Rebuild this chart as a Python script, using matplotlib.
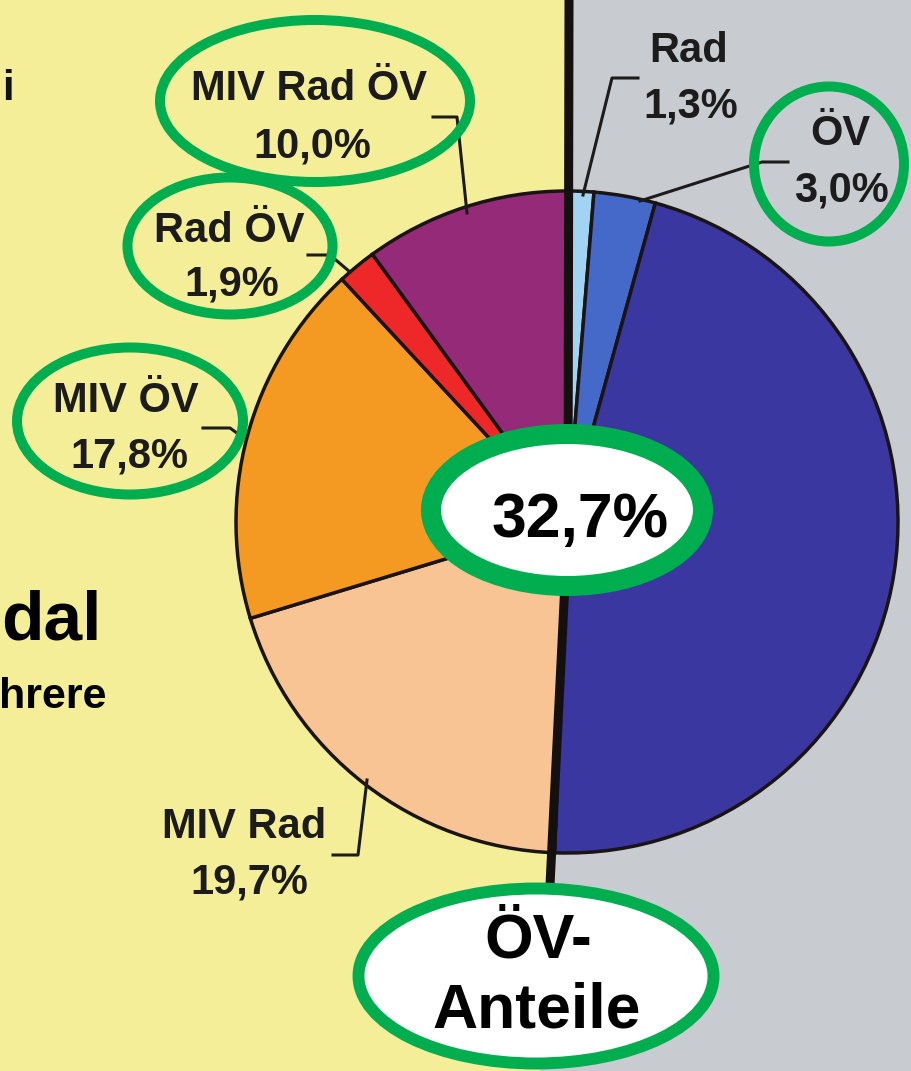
import matplotlib.pyplot as plt
from matplotlib.patches import Ellipse

plt.rcParams['font.family'] = ['Liberation Sans', 'DejaVu Sans']

# Daten (Anteile in %), im Uhrzeigersinn ab 12 Uhr
labels = ['Rad', 'ÖV', 'MIV', 'MIV Rad', 'MIV ÖV', 'Rad ÖV', 'MIV Rad ÖV']
shares = [1.3, 3.0, 46.3, 19.7, 17.8, 1.9, 10.0]
share_text = ['1,3%', '3,0%', None, '19,7%', '17,8%', '1,9%', '10,0%']
colors = ['#a3d3f2', '#4569c8', '#3b37a0', '#f9c494', '#f49a22', '#ee2829', '#942a78']
oev_total = '32,7%'

W, H = 911, 1071
fig = plt.figure(figsize=(W / 100, H / 100), dpi=100)
ax = fig.add_axes([0, 0, 1, 1])

# Hintergrund: links gelb, rechts grau (Grenze = schwarze Trennlinie)
cx, cy, r = 567, 522, 331
ax.fill([0, W, W, 0], [0, 0, H, H], color='#f4ee98', zorder=0)
ax.fill([569, W, W, 541, 568], [0, 0, H, H, cy], color='#c8ccd1', zorder=0)

# Torte (y-Achse invertiert -> startangle 270 = oben, counterclock=True läuft im Bild im Uhrzeigersinn)
ax.pie(shares, colors=colors, startangle=270, counterclock=True, center=(cx, cy), radius=r,
       wedgeprops=dict(edgecolor='#1a1414', linewidth=2.5), frame=True)

ax.plot([569, 568, 549], [0, cy, 905], color='#151010', lw=6.5, solid_capstyle='butt', zorder=3)

# Beschriftungen: (x1, y1, x2, y2) für Zeile 1 / Zeile 2
txt = '#1c1c1c'
lab_pos = {
    'Rad': (689, 62, 691, 118),
    'ÖV': (840, 145, 841, 202),
    'MIV Rad': (244, 838, 249, 893),
    'MIV ÖV': (126, 412, 129, 468),
    'Rad ÖV': (229, 242, 232, 296),
    'MIV Rad ÖV': (309, 100, 312, 157),
}
for name, val in zip(labels, share_text):
    if val is None:
        continue
    x1, y1, x2, y2 = lab_pos[name]
    ax.text(x1, y1, name, ha='center', va='baseline', fontsize=30, fontweight='bold', color=txt, zorder=5)
    ax.text(x2, y2, val, ha='center', va='baseline', fontsize=30, fontweight='bold', color=txt, zorder=5)

# Führungslinien
leaders = [
    ([583, 612, 638], [195, 78, 78]),
    ([640, 762, 788], [201, 162, 162]),
    ([367, 358, 333], [780, 855, 855]),
    ([203, 230, 241], [428, 428, 436]),
    ([308, 330, 350], [255, 255, 272]),
    ([467, 457, 433], [213, 117, 117]),
]
for xs, ys in leaders:
    ax.plot(xs, ys, color=txt, lw=2.2, zorder=4)

# Text links (im Original abgeschnitten)
ax.text(14, 100, 'i', ha='right', va='baseline', fontsize=30, fontweight='bold', color='#111111')
ax.text(1, 640, 'dal', ha='left', va='baseline', fontsize=50, fontweight='bold', color='black')
ax.text(107, 708, 'hrere', ha='right', va='baseline', fontsize=31, fontweight='bold', color='black')

# grüne Markierungen
green = '#00ae4f'
rings = [((315, 101), 310, 162), ((230, 246), 205, 137), ((130, 421), 226, 147), ((829, 164), 150, 155)]
for c, w, h in rings:
    ax.add_patch(Ellipse(c, w, h, fill=False, edgecolor=green, lw=7.2, zorder=6))

ax.add_patch(Ellipse((567, 510), 272, 152, facecolor='white', edgecolor=green, lw=14.4, zorder=7))
ax.text(580, 537, oev_total, ha='center', va='baseline', fontsize=45, fontweight='bold', color='black', zorder=8)

ax.add_patch(Ellipse((536, 976), 355, 175, facecolor='white', edgecolor=green, lw=8.6, zorder=7))
ax.text(538, 957, 'ÖV-', ha='center', va='baseline', fontsize=45, fontweight='bold', color='black', zorder=8)
ax.text(537, 1028, 'Anteile', ha='center', va='baseline', fontsize=45, fontweight='bold', color='black', zorder=8)

ax.set_xlim(0, W)
ax.set_ylim(H, 0)
ax.set_aspect('auto')
ax.axis('off')

fig.savefig('out.png', dpi=100)
